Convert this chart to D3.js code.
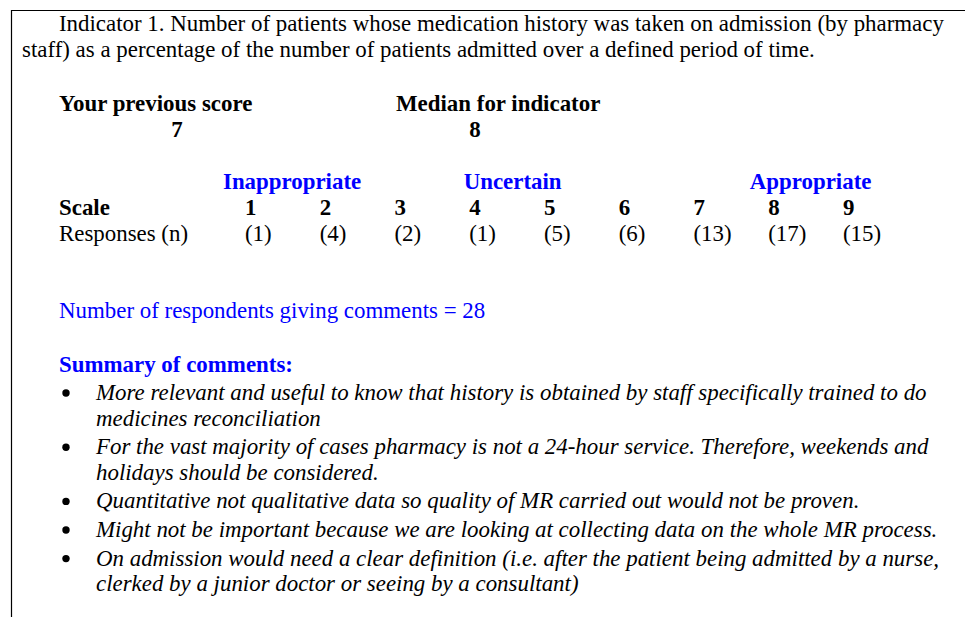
<!DOCTYPE html>
<html><head><meta charset="utf-8">
<script src="https://cdn.jsdelivr.net/npm/d3@7/dist/d3.min.js"></script>
<style>
html,body{margin:0;padding:0;background:#fff;}
svg{display:block;}
text{font-family:"Liberation Serif","Times New Roman",serif;font-size:22.9px;fill:#000;}
</style></head>
<body>
<script>
// ---- data ----
const titleLines = [
  "Indicator 1. Number of patients whose medication history was taken on admission (by pharmacy",
  "staff) as a percentage of the number of patients admitted over a defined period of time."
];
const previousScore = 7;
const medianScore = 8;
const scaleValues = [1, 2, 3, 4, 5, 6, 7, 8, 9];
const responses = [1, 4, 2, 1, 5, 6, 13, 17, 15];
const groupLabels = ["Inappropriate", "Uncertain", "Appropriate"];
const respondentsCommenting = 28;
const comments = [
  ["More relevant and useful to know that history is obtained by staff specifically trained to do", "medicines reconciliation"],
  ["For the vast majority of cases pharmacy is not a 24-hour service. Therefore, weekends and", "holidays should be considered."],
  ["Quantitative not qualitative data so quality of MR carried out would not be proven."],
  ["Might not be important because we are looking at collecting data on the whole MR process."],
  ["On admission would need a clear definition (i.e. after the patient being admitted by a nurse,", "clerked by a junior doctor or seeing by a consultant)"]
];

// ---- layout ----
const W = 966, H = 617;
const blue = "#0000ff";
const svg = d3.select("body").append("svg").attr("width", W).attr("height", H);

// frame (left and top rules)
svg.append("line").attr("x1", 11.5).attr("y1", 10).attr("x2", 11.5).attr("y2", H).attr("stroke", "#000").attr("stroke-width", 1.2);
svg.append("line").attr("x1", 11).attr("y1", 10.5).attr("x2", 965).attr("y2", 10.5).attr("stroke", "#000").attr("stroke-width", 1.2);

// title
svg.append("text").attr("x", 59).attr("y", 31).text(titleLines[0]);
svg.append("text").attr("x", 22).attr("y", 57).text(titleLines[1]);

// scores
svg.append("text").attr("x", 59).attr("y", 111).attr("font-weight", "bold").text("Your previous score");
svg.append("text").attr("x", 177).attr("y", 137).attr("font-weight", "bold").attr("text-anchor", "middle").text(previousScore);
svg.append("text").attr("x", 396).attr("y", 111).attr("font-weight", "bold").text("Median for indicator");
svg.append("text").attr("x", 475).attr("y", 137).attr("font-weight", "bold").attr("text-anchor", "middle").text(medianScore);

// scale
const x = d3.scaleLinear().domain([1, 9]).range([245, 843]);
const groupStart = [1.63, 4.5, 8.5];
const gy = 189, sy = 215, ry = 241;
svg.selectAll("text.grp").data(groupLabels).join("text").attr("class", "grp")
  .attr("x", (d, i) => x(groupStart[i]) + [0, 6, 5][i])
  .attr("y", gy).attr("text-anchor", "middle").attr("font-weight", "bold").style("fill", blue).text(d => d);

svg.append("text").attr("x", 59).attr("y", sy).attr("font-weight", "bold").text("Scale");
svg.append("text").attr("x", 59).attr("y", ry).text("Responses (n)");
svg.selectAll("text.sv").data(scaleValues).join("text").attr("class", "sv")
  .attr("x", d => x(d)).attr("y", sy).attr("font-weight", "bold").text(d => d);
svg.selectAll("text.rv").data(responses).join("text").attr("class", "rv")
  .attr("x", (d, i) => x(scaleValues[i])).attr("y", ry).text(d => "(" + d + ")");

// respondents
svg.append("text").attr("x", 59).attr("y", 318).style("fill", blue).text("Number of respondents giving comments = " + respondentsCommenting);
svg.append("text").attr("x", 59).attr("y", 372).attr("font-weight", "bold").style("fill", blue).text("Summary of comments:");

// comments
let yy = 400;
const lineH = 25.6, bulletGap = 3;
comments.forEach(lines => {
  svg.append("circle").attr("cx", 66).attr("cy", yy - 7).attr("r", 3.7).attr("fill", "#000");
  lines.forEach((ln, j) => {
    svg.append("text").attr("x", 96).attr("y", yy).attr("font-style", "italic").text(ln);
    yy += lineH;
  });
  yy += bulletGap;
});
</script>
</body></html>
